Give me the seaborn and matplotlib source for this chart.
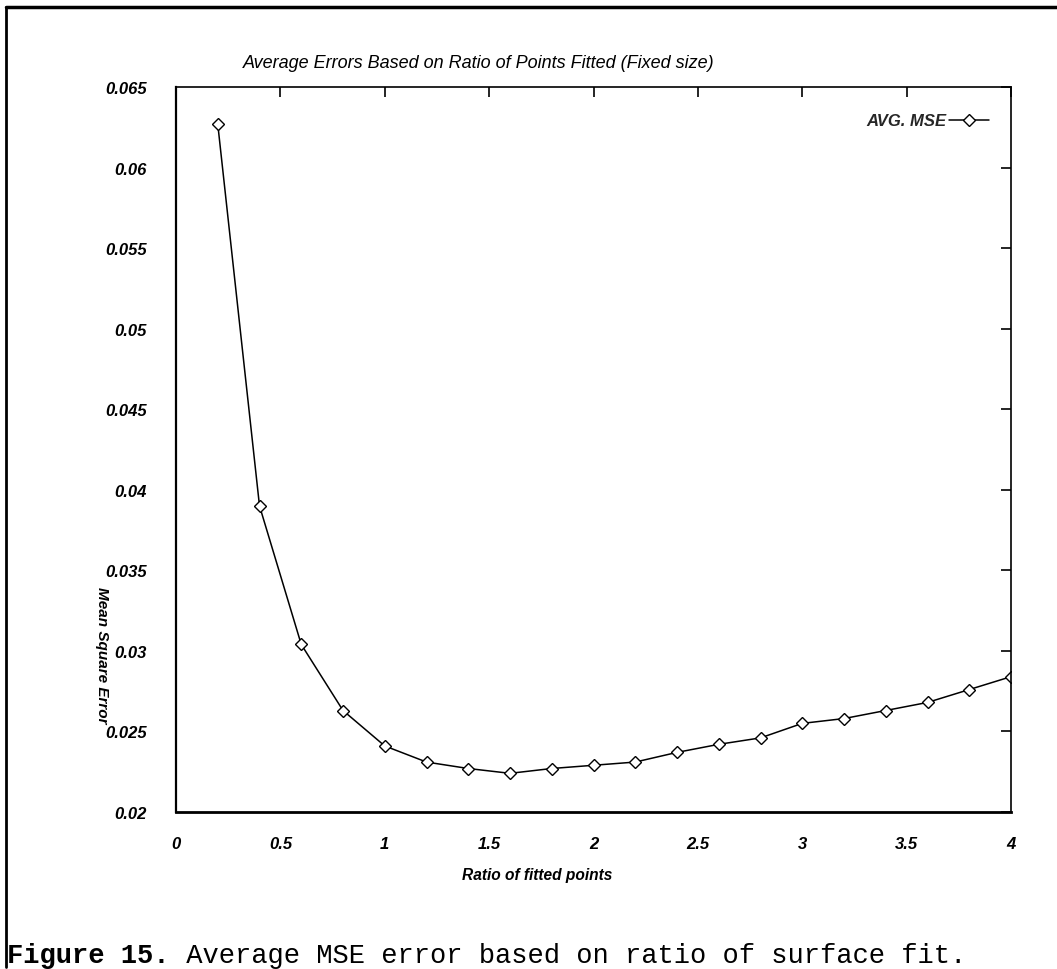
import numpy as np
import pandas as pd
import matplotlib
matplotlib.use("Agg")
import matplotlib.pyplot as plt
import seaborn as sns
from matplotlib.lines import Line2D
from matplotlib.font_manager import FontProperties

# ── Data ──────────────────────────────────────────────────────────────────────
ratio = [0.2, 0.4, 0.6, 0.8, 1.0, 1.2, 1.4, 1.6, 1.8, 2.0,
         2.2, 2.4, 2.6, 2.8, 3.0, 3.2, 3.4, 3.6, 3.8, 4.0]
avg_mse = [0.0627, 0.0390, 0.0304, 0.0263, 0.0241, 0.0231, 0.0227, 0.0224,
           0.0227, 0.0229, 0.0231, 0.0237, 0.0242, 0.0246, 0.0255, 0.0258,
           0.0263, 0.0268, 0.0276, 0.0284]
x_ticks = [0, 0.5, 1, 1.5, 2, 2.5, 3, 3.5, 4]
x_ticklabels = ["0", "0.5", "1", "1.5", "2", "2.5", "3", "3.5", "4"]
y_ticks = [0.02, 0.025, 0.03, 0.035, 0.04, 0.045, 0.05, 0.055, 0.06, 0.065]
y_ticklabels = ["0.02", "0.025", "0.03", "0.035", "0.04", "0.045",
                "0.05", "0.055", "0.06", "0.065"]

df = pd.DataFrame({"ratio": ratio, "mse": avg_mse})

sns.set_theme(style="white")
plt.rcParams["font.family"] = ["Liberation Sans", "DejaVu Sans"]

W, H = 1057, 970
fig = plt.figure(figsize=(W / 100, H / 100), dpi=100)
ax = fig.add_axes([176 / W, 1 - 813 / H, (1011 - 176) / W, (813 - 88) / H])

sns.lineplot(data=df, x="ratio", y="mse", ax=ax, color="black", linewidth=1.1,
             marker="D", markersize=6.5, markerfacecolor="white",
             markeredgecolor="black", markeredgewidth=1.0, label="AVG. MSE")

ax.set_xlim(0, 4)
ax.set_ylim(0.02, 0.065)
ax.set_xticks(x_ticks)
ax.set_xticklabels(x_ticklabels)
ax.set_yticks(y_ticks)
ax.set_yticklabels(y_ticklabels)

bold_it = dict(family="Liberation Sans", weight="bold", style="italic")
for lab in ax.get_xticklabels() + ax.get_yticklabels():
    lab.set_fontproperties(FontProperties(size=12, **bold_it))

ax.tick_params(axis="both", direction="in", length=7, width=1.2, color="black",
               top=True, right=True, labelcolor="black")
ax.tick_params(axis="y", pad=21)
ax.tick_params(axis="x", pad=17)

for side, lw in [("left", 1.6), ("bottom", 2.0), ("top", 1.2), ("right", 1.2)]:
    ax.spines[side].set_visible(True)
    ax.spines[side].set_color("black")
    ax.spines[side].set_linewidth(lw)

ax.set_xlabel("Ratio of fitted points", fontproperties=FontProperties(size=11.2, **bold_it),
              color="black")
ax.xaxis.set_label_coords((537 - 176) / 835, -(868 - 813) / 725)
ax.set_ylabel("Mean Square Error", fontproperties=FontProperties(size=11, **bold_it),
              color="black", rotation=270)
ax.yaxis.set_label_coords((95 - 176) / 835, (813 - 655) / 725)

fig.text(243 / W, 1 - 63 / H,
         "Average Errors Based on Ratio of Points Fitted (Fixed size)",
         fontsize=13, fontstyle="italic", ha="left", va="center", color="black")

leg = ax.legend(loc="center right", frameon=False, markerfirst=False,
                bbox_to_anchor=((989 - 176) / 835, (813 - 122) / 725),
                borderaxespad=0, borderpad=0,
                handlelength=2.4, handletextpad=0.15,
                prop=FontProperties(size=12, **bold_it))

# outer page frame
fig.add_artist(Line2D([6 / W, 1.0], [1 - 8 / H, 1 - 8 / H], color="black", lw=2.5))
fig.add_artist(Line2D([6 / W, 6 / W], [1 - 8 / H, 1 - 968 / H], color="black", lw=2.0))

# caption
t1 = fig.text(7 / W, 1 - 963 / H, "Figure 15.", fontsize=19.5, family="Liberation Mono",
              fontweight="bold", ha="left", va="baseline", color="black")
fig.canvas.draw()
bb = t1.get_window_extent()
fig.text(bb.x1 / W, 1 - 963 / H, " Average MSE error based on ratio of surface fit.",
         fontsize=19.5, family="Liberation Mono", ha="left", va="baseline", color="black")

fig.savefig("out.png", dpi=100)
